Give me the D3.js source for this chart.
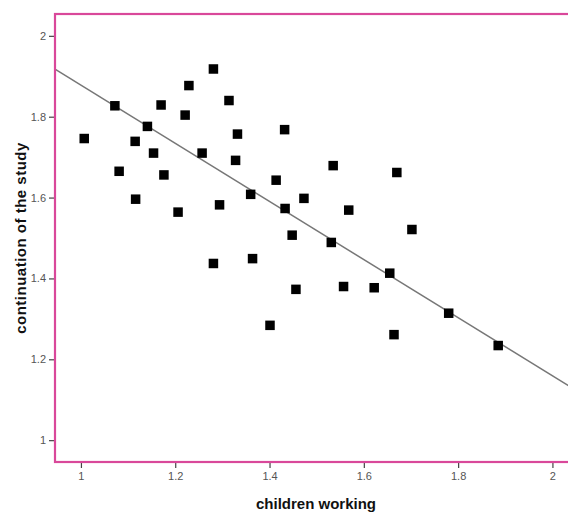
<!DOCTYPE html>
<html>
<head>
<meta charset="utf-8">
<script src="https://cdn.jsdelivr.net/npm/d3@7"></script>
<style>
  body { margin: 0; background: #fff; }
  svg { display: block; font-family: "Liberation Sans", Arial, sans-serif; }
</style>
</head>
<body>
<div id="chart"></div>
<script>
const width = 568;
const height = 516;

// data
const childrenWorking = [1.007, 1.072, 1.115, 1.081, 1.116, 1.141, 1.154, 1.170, 1.176, 1.206,
  1.221, 1.229, 1.257, 1.281, 1.294, 1.314, 1.332, 1.328, 1.360, 1.414,
  1.432, 1.433, 1.448, 1.473, 1.535, 1.568, 1.531, 1.670, 1.702, 1.281,
  1.364, 1.456, 1.401, 1.557, 1.622, 1.655, 1.664, 1.780, 1.885];
const continuation = [1.746, 1.827, 1.739, 1.665, 1.596, 1.776, 1.710, 1.829, 1.656, 1.564,
  1.804, 1.877, 1.710, 1.918, 1.582, 1.840, 1.757, 1.692, 1.608, 1.643,
  1.768, 1.573, 1.507, 1.598, 1.679, 1.569, 1.489, 1.662, 1.521, 1.437,
  1.449, 1.373, 1.284, 1.380, 1.377, 1.413, 1.261, 1.314, 1.234];
const xTicks = [1, 1.2, 1.4, 1.6, 1.8, 2];
const yTicks = [1, 1.2, 1.4, 1.6, 1.8, 2];
// fit line
const fitIntercept = 2.597;
const fitSlope = -0.719;

const points = childrenWorking.map((d, i) => ({ x: d, y: continuation[i] }));

const plot = { left: 55, top: 14, right: 576, bottom: 462 };

const x = d3.scaleLinear().domain([0.945, 2.05]).range([plot.left, plot.right]);
const y = d3.scaleLinear().domain([0.946, 2.054]).range([plot.bottom, plot.top]);

const svg = d3.select("#chart").append("svg")
  .attr("width", width)
  .attr("height", height);

// axes
const xAxis = svg.append("g")
  .attr("transform", `translate(0,${plot.bottom})`)
  .call(d3.axisBottom(x).tickValues(xTicks).tickFormat(d3.format("")).tickSize(6).tickPadding(4));
const yAxis = svg.append("g")
  .attr("transform", `translate(${plot.left},0)`)
  .call(d3.axisLeft(y).tickValues(yTicks).tickFormat(d3.format("")).tickSize(6).tickPadding(3));

[xAxis, yAxis].forEach(g => {
  g.select(".domain").remove();
  g.selectAll(".tick line").attr("stroke", "#444").attr("stroke-width", 1.2);
  g.selectAll(".tick text").attr("fill", "#555").style("font-size", "11px");
});

// regression line
const xd = x.domain();
svg.append("line")
  .attr("x1", x(xd[0])).attr("y1", y(fitIntercept + fitSlope * xd[0]))
  .attr("x2", x(xd[1])).attr("y2", y(fitIntercept + fitSlope * xd[1]))
  .attr("stroke", "#777")
  .attr("stroke-width", 1.5);

// points
const s = 9.5;
svg.append("g")
  .selectAll("rect")
  .data(points)
  .enter().append("rect")
  .attr("x", d => x(d.x) - s / 2)
  .attr("y", d => y(d.y) - s / 2)
  .attr("width", s)
  .attr("height", s)
  .attr("fill", "#000");

// frame
svg.append("rect")
  .attr("x", plot.left)
  .attr("y", plot.top)
  .attr("width", plot.right - plot.left)
  .attr("height", plot.bottom - plot.top)
  .attr("fill", "none")
  .attr("stroke", "#d9489a")
  .attr("stroke-width", 2.2);

// titles
svg.append("text")
  .attr("x", 316)
  .attr("y", 509)
  .attr("text-anchor", "middle")
  .style("font-size", "15px")
  .style("font-weight", "bold")
  .attr("fill", "#111")
  .text("children working");

svg.append("text")
  .attr("transform", "translate(26,238) rotate(-90)")
  .attr("text-anchor", "middle")
  .style("font-size", "15px")
  .style("font-weight", "bold")
  .style("letter-spacing", "0.5px")
  .attr("fill", "#111")
  .text("continuation of the study");
</script>
</body>
</html>
